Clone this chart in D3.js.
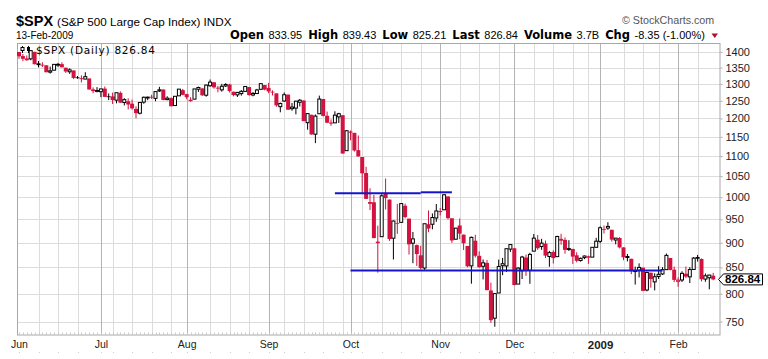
<!DOCTYPE html>
<html>
<head>
<meta charset="utf-8">
<script src="https://cdn.jsdelivr.net/npm/d3@7"></script>
<style>
  body { margin: 0; background: #fff; }
  svg { display: block; }
  text { font-family: "Liberation Sans", Arial, sans-serif; }
</style>
</head>
<body>
<svg id="chart" width="768" height="359"></svg>
<script>
// $SPX daily, 2 Jun 2008 - 13 Feb 2009
const dates = [
  "2008-06-02","2008-06-03","2008-06-04","2008-06-05","2008-06-06","2008-06-09","2008-06-10","2008-06-11","2008-06-12","2008-06-13","2008-06-16","2008-06-17","2008-06-18","2008-06-19","2008-06-20","2008-06-23","2008-06-24","2008-06-25","2008-06-26","2008-06-27","2008-06-30",
  "2008-07-01","2008-07-02","2008-07-03","2008-07-07","2008-07-08","2008-07-09","2008-07-10","2008-07-11","2008-07-14","2008-07-15","2008-07-16","2008-07-17","2008-07-18","2008-07-21","2008-07-22","2008-07-23","2008-07-24","2008-07-25","2008-07-28","2008-07-29","2008-07-30","2008-07-31",
  "2008-08-01","2008-08-04","2008-08-05","2008-08-06","2008-08-07","2008-08-08","2008-08-11","2008-08-12","2008-08-13","2008-08-14","2008-08-15","2008-08-18","2008-08-19","2008-08-20","2008-08-21","2008-08-22","2008-08-25","2008-08-26","2008-08-27","2008-08-28","2008-08-29",
  "2008-09-02","2008-09-03","2008-09-04","2008-09-05","2008-09-08","2008-09-09","2008-09-10","2008-09-11","2008-09-12","2008-09-15","2008-09-16","2008-09-17","2008-09-18","2008-09-19","2008-09-22","2008-09-23","2008-09-24","2008-09-25","2008-09-26","2008-09-29","2008-09-30",
  "2008-10-01","2008-10-02","2008-10-03","2008-10-06","2008-10-07","2008-10-08","2008-10-09","2008-10-10","2008-10-13","2008-10-14","2008-10-15","2008-10-16","2008-10-17","2008-10-20","2008-10-21","2008-10-22","2008-10-23","2008-10-24","2008-10-27","2008-10-28","2008-10-29","2008-10-30","2008-10-31",
  "2008-11-03","2008-11-04","2008-11-05","2008-11-06","2008-11-07","2008-11-10","2008-11-11","2008-11-12","2008-11-13","2008-11-14","2008-11-17","2008-11-18","2008-11-19","2008-11-20","2008-11-21","2008-11-24","2008-11-25","2008-11-26","2008-11-28",
  "2008-12-01","2008-12-02","2008-12-03","2008-12-04","2008-12-05","2008-12-08","2008-12-09","2008-12-10","2008-12-11","2008-12-12","2008-12-15","2008-12-16","2008-12-17","2008-12-18","2008-12-19","2008-12-22","2008-12-23","2008-12-24","2008-12-26","2008-12-29","2008-12-30","2008-12-31",
  "2009-01-02","2009-01-05","2009-01-06","2009-01-07","2009-01-08","2009-01-09","2009-01-12","2009-01-13","2009-01-14","2009-01-15","2009-01-16","2009-01-20","2009-01-21","2009-01-22","2009-01-23","2009-01-26","2009-01-27","2009-01-28","2009-01-29","2009-01-30",
  "2009-02-02","2009-02-03","2009-02-04","2009-02-05","2009-02-06","2009-02-09","2009-02-10","2009-02-11","2009-02-12","2009-02-13"
];

const open = [
  1399.62,1386.42,1376.26,1377.48,1400.06,1360.83,1358.98,1357.09,1335.78,1341.81,1358.85,1360.71,1349.59,1336.89,1341.02,1319.77,1317.23,1314.54,1316.29,1283.60,1278.06,
  1276.69,1285.82,1262.96,1262.90,1251.84,1273.38,1245.25,1248.66,1241.61,1226.83,1214.65,1246.31,1258.22,1261.82,1257.08,1278.87,1283.22,1253.51,1257.76,1236.38,1264.52,1281.37,
  1269.42,1253.27,1254.87,1283.99,1286.51,1266.29,1294.42,1304.79,1288.64,1282.11,1293.85,1298.14,1276.65,1267.34,1271.07,1277.59,1290.47,1267.03,1271.29,1283.79,1296.49,
  1287.83,1276.61,1271.80,1233.21,1249.50,1267.98,1227.50,1229.04,1245.88,1250.92,1188.31,1210.34,1157.08,1213.11,1255.37,1207.61,1188.79,1187.87,1204.47,1209.07,1113.78,
  1164.17,1160.64,1115.16,1097.56,1057.60,988.91,988.42,902.31,912.75,1009.97,994.60,909.53,942.29,943.51,980.40,951.67,899.08,895.22,874.28,848.92,939.51,939.38,953.11,
  968.67,971.31,1001.84,952.40,907.44,936.75,917.15,893.39,853.13,904.36,873.23,852.34,859.03,805.87,755.84,801.20,853.40,852.90,886.89,
  888.61,817.94,843.60,869.75,844.43,882.71,906.48,892.17,898.35,871.79,881.07,871.53,908.16,905.98,886.96,887.20,874.31,863.87,869.51,872.37,870.58,890.59,
  902.99,929.17,931.17,927.45,905.73,909.91,890.40,869.79,867.28,841.99,844.45,849.64,806.77,839.74,822.16,832.50,837.30,845.73,868.89,845.69,
  823.09,825.69,837.77,831.75,846.09,868.24,866.87,827.41,829.91,833.95
];

const high = [
  1399.62,1393.12,1388.18,1404.05,1400.06,1370.63,1366.84,1357.09,1353.03,1360.03,1364.70,1366.59,1349.59,1347.66,1341.02,1323.78,1326.02,1335.63,1316.29,1289.45,1290.31,
  1285.31,1292.17,1271.48,1273.95,1274.17,1277.36,1257.65,1257.27,1253.50,1234.35,1245.52,1262.31,1262.23,1267.74,1277.42,1291.17,1283.22,1263.23,1260.09,1263.20,1284.33,1284.93,
  1270.52,1260.49,1284.88,1291.67,1286.51,1297.85,1313.15,1304.79,1294.03,1300.11,1302.05,1300.22,1276.65,1276.01,1281.40,1293.09,1290.47,1275.65,1285.05,1300.68,1296.49,
  1303.04,1280.60,1271.80,1244.94,1274.42,1268.66,1243.90,1249.98,1255.09,1250.92,1214.84,1210.34,1211.14,1265.12,1255.37,1219.15,1197.41,1220.03,1215.77,1209.07,1168.03,
  1167.03,1160.64,1153.82,1097.56,1072.91,1021.06,1005.25,936.36,1006.93,1044.31,994.60,947.71,984.64,985.40,985.44,951.67,922.83,896.30,893.78,940.51,969.97,963.23,984.38,
  975.57,1007.51,1001.84,952.40,931.46,951.95,917.15,893.39,913.01,916.88,882.29,865.90,864.57,820.52,801.20,865.60,868.94,887.68,896.25,
  888.61,850.54,873.12,875.60,879.42,918.57,916.26,908.27,904.63,883.24,884.63,914.66,918.85,911.02,905.47,887.37,880.44,869.79,873.74,873.70,891.12,910.32,
  934.73,936.63,943.85,927.45,910.00,911.93,890.40,877.02,867.28,851.59,858.13,849.64,841.72,839.74,838.61,852.53,850.45,877.86,868.89,851.66,
  830.78,842.60,851.85,850.55,870.75,875.01,868.05,838.22,835.48,839.43
];

const low = [
  1377.79,1370.12,1371.74,1373.07,1359.90,1350.62,1351.56,1335.47,1331.29,1341.71,1352.07,1350.54,1333.40,1330.50,1314.46,1315.31,1304.42,1314.54,1283.15,1272.00,1274.86,
  1260.68,1261.51,1252.01,1240.68,1242.84,1244.57,1236.76,1225.35,1225.01,1200.44,1211.39,1241.49,1251.81,1255.70,1248.83,1276.06,1251.48,1251.75,1234.37,1236.38,1264.52,1265.97,
  1254.54,1247.45,1254.67,1276.00,1264.29,1262.11,1291.41,1285.64,1274.86,1276.84,1290.74,1274.51,1263.11,1261.16,1265.22,1277.59,1264.87,1263.21,1270.03,1283.79,1280.89,
  1272.20,1265.59,1232.83,1217.23,1247.12,1224.51,1221.60,1211.54,1233.81,1192.70,1169.28,1155.88,1133.50,1213.11,1205.61,1187.06,1179.79,1187.87,1187.54,1106.42,1113.78,
  1140.77,1111.43,1098.14,1007.97,996.23,970.97,909.19,839.80,912.75,972.07,903.99,865.83,918.74,943.51,952.47,875.81,858.44,852.85,845.83,845.27,922.26,928.50,944.59,
  958.82,971.31,949.86,899.73,906.90,907.47,884.90,850.48,818.69,869.88,848.98,826.84,806.18,747.78,741.02,801.20,834.99,841.37,881.21,
  815.69,817.94,827.60,833.60,818.41,882.71,885.38,885.45,868.73,851.35,857.72,871.53,895.94,877.44,883.02,857.09,860.10,861.44,866.52,857.07,870.58,889.67,
  899.35,919.53,927.28,902.37,896.81,888.31,864.32,862.02,836.93,817.04,830.66,804.47,804.30,811.29,806.07,827.69,835.40,845.73,844.15,821.67,
  812.87,821.98,829.18,819.91,845.42,861.65,822.99,822.30,808.06,825.21
];

const close = [
  1385.67,1377.65,1377.20,1404.05,1360.68,1361.76,1358.44,1335.49,1339.87,1360.03,1360.14,1350.93,1337.81,1342.83,1317.93,1318.00,1314.29,1321.97,1283.15,1278.38,1280.00,
  1284.91,1261.52,1262.90,1252.31,1273.70,1244.69,1253.39,1239.49,1228.30,1214.91,1245.36,1260.32,1260.68,1260.00,1277.00,1282.19,1252.54,1257.76,1234.37,1263.20,1284.26,1267.38,
  1260.31,1249.01,1284.88,1289.19,1266.07,1296.32,1305.32,1289.59,1285.83,1292.93,1298.20,1278.60,1266.69,1274.54,1277.72,1292.20,1266.84,1271.51,1281.66,1300.68,1282.83,
  1277.58,1274.98,1236.83,1242.31,1267.79,1224.51,1232.04,1249.05,1251.70,1192.70,1213.60,1156.39,1206.51,1255.08,1207.09,1188.22,1185.87,1209.18,1213.27,1106.42,1166.36,
  1161.06,1114.28,1099.23,1056.89,996.23,984.94,909.92,899.22,1003.35,998.01,907.84,946.43,940.55,985.40,955.05,896.78,908.11,876.77,848.92,940.51,930.09,954.09,968.75,
  966.30,1005.75,952.77,904.88,930.99,919.21,898.95,852.30,911.29,873.29,850.75,859.12,806.58,752.44,800.03,851.81,857.39,887.68,896.24,
  816.21,848.81,870.74,845.22,876.07,909.70,888.67,899.24,873.59,879.73,868.57,913.18,904.42,885.28,887.88,871.63,863.16,868.15,872.80,869.42,890.64,903.25,
  931.80,927.45,934.70,906.65,909.73,890.35,870.26,871.79,842.62,843.74,850.12,805.22,840.24,827.50,831.95,836.57,845.71,874.09,845.14,825.88,
  825.44,838.51,832.23,845.85,868.60,869.89,827.16,833.74,835.19,826.84
];

const priorClose = 1400.38;   // 30 May 2008

const yTicks = [750, 800, 850, 900, 950, 1000, 1050, 1100, 1150, 1200, 1250, 1300, 1350, 1400];
const monthLabels = ["Jun", "Jul", "Aug", "Sep", "Oct", "Nov", "Dec", "2009", "Feb"];

// hand-drawn horizontal lines: [from date, to date, price]
const lineFrom  = ["2008-09-25", "2008-10-27", "2008-10-01"];
const lineTo    = ["2008-10-27", "2008-11-06", "2009-01-27"];
const linePrice = [1009, 1011.5, 844];

const headerLabels = ["Open", "High", "Low", "Last", "Volume", "Chg"];
const headerValues = ["833.95", "839.43", "825.21", "826.84", "3.7B", "-8.35 (-1.00%)"];

const RED = "#d3123f", INK = "#000";

const svg = d3.select("#chart");
const plotL = 17, plotR = 720.5, plotT = 43, plotB = 334.5;

const x = d3.scalePoint().domain(dates).range([19, 713.2]);
const y = d3.scaleLog().domain([727, 1429]).range([335, 43]);

const parse = d3.timeParse("%Y-%m-%d");
const days = dates.map(parse);
const monthStart = dates.filter((d, i) => i === 0 || days[i].getMonth() !== days[i - 1].getMonth());
const monthIdx = monthStart.map(d => dates.indexOf(d));
const weekStart = dates.filter((d, i) => {
  if (i === 0 || days[i].getDay() > days[i - 1].getDay()) return false;
  return !monthIdx.some(m => Math.abs(m - i) <= 1);
});

// grid
const grid = svg.append("g");
grid.selectAll(".hg").data(yTicks).join("line")
  .attr("x1", plotL).attr("x2", plotR)
  .attr("y1", d => Math.round(y(d)) + 0.5).attr("y2", d => Math.round(y(d)) + 0.5)
  .attr("stroke", "#dcdcdc");
grid.selectAll(".wg").data(weekStart).join("line")
  .attr("x1", d => Math.round(x(d)) + 0.5).attr("x2", d => Math.round(x(d)) + 0.5)
  .attr("y1", plotT).attr("y2", plotB)
  .attr("stroke", "#dcdcdc");
grid.selectAll(".mg").data(monthStart.slice(1)).join("line")
  .attr("x1", d => Math.round(x(d)) + 0.5).attr("x2", d => Math.round(x(d)) + 0.5)
  .attr("y1", plotT).attr("y2", plotB)
  .attr("stroke", "#b4b4b4");

// frame
svg.append("rect")
  .attr("x", plotL + 0.5).attr("y", plotT + 0.5)
  .attr("width", plotR - plotL - 1).attr("height", plotB - plotT)
  .attr("fill", "none").attr("stroke", "#a8a8a8");

// daily ticks on bottom edge
svg.append("g").selectAll("line").data(dates).join("line")
  .attr("x1", d => Math.round(x(d)) + 0.5).attr("x2", d => Math.round(x(d)) + 0.5)
  .attr("y1", plotB - 2).attr("y2", plotB)
  .attr("stroke", "#c8c8c8");
// weekly dots under labels
svg.append("g").selectAll("rect").data(weekStart.concat(monthStart)).join("rect")
  .attr("x", d => Math.round(x(d))).attr("y", 352)
  .attr("width", 1).attr("height", 1).attr("fill", "#cfcfcf");

// candles
const bars = dates.map((d, i) => ({
  d, o: open[i], h: high[i], l: low[i], c: close[i],
  pc: i ? close[i - 1] : priorClose
}));
const cg = svg.append("g");
const candle = cg.selectAll("g").data(bars).join("g");
candle.append("line")
  .attr("x1", b => x(b.d)).attr("x2", b => x(b.d))
  .attr("y1", b => y(b.h)).attr("y2", b => y(b.l))
  .attr("stroke", b => b.c < b.pc ? RED : INK).attr("stroke-width", 1);
candle.append("rect")
  .attr("x", b => b.c >= b.o ? x(b.d) - 1.5 : x(b.d) - 2)
  .attr("width", b => b.c >= b.o ? 3 : 4)
  .attr("y", b => y(Math.max(b.o, b.c)))
  .attr("height", b => Math.max(y(Math.min(b.o, b.c)) - y(Math.max(b.o, b.c)), 0.8))
  .attr("fill", b => b.c >= b.o ? "#fff" : (b.c < b.pc ? RED : INK))
  .attr("stroke", b => b.c >= b.o ? (b.c < b.pc ? RED : INK) : "none")
  .attr("stroke-width", 1);

// blue horizontal lines
svg.append("g").selectAll("line").data(linePrice).join("line")
  .attr("x1", (p, i) => x(lineFrom[i])).attr("x2", (p, i) => x(lineTo[i]))
  .attr("y1", p => y(p)).attr("y2", p => y(p))
  .attr("stroke", "#1414cc").attr("stroke-width", 2);

// right price axis
const yAxis = svg.append("g")
  .attr("transform", `translate(${plotR},0)`)
  .call(d3.axisRight(y).tickValues(yTicks).tickFormat(d3.format("d")).tickSize(2).tickPadding(3));
yAxis.select(".domain").remove();
yAxis.selectAll(".tick line").attr("stroke", "#a8a8a8");
yAxis.selectAll("text").attr("font-size", 11).attr("fill", "#222")
  .style("font-family", '"Liberation Sans", Arial, sans-serif');

// month axis
const xAxis = svg.append("g")
  .attr("transform", `translate(0,${plotB})`)
  .call(d3.axisBottom(x).tickValues(monthStart).tickSize(0).tickPadding(6)
    .tickFormat((d, i) => monthLabels[i]));
xAxis.select(".domain").remove();
xAxis.selectAll("text").attr("fill", "#222")
  .style("font-family", '"Liberation Sans", Arial, sans-serif')
  .attr("font-weight", (d, i) => monthLabels[i] === "2009" ? "bold" : "normal")
  .attr("font-size", (d, i) => monthLabels[i] === "2009" ? 11.5 : 10.5);

// last price tag
const lastY = y(close[close.length - 1]);
svg.append("path")
  .attr("d", `M718.5,${lastY} L723.5,${lastY - 5.5} H762.5 V${lastY + 5.5} H723.5 Z`)
  .attr("fill", "#fff").attr("stroke", "#000");
svg.append("text")
  .attr("x", 725).attr("y", lastY + 4)
  .attr("font-size", 11.5).attr("font-weight", "bold")
  .text(d3.format(".2f")(close[close.length - 1]));

// header
svg.append("text").attr("x", 16).attr("y", 25.5)
  .attr("font-size", 14.5).attr("font-weight", "bold").text("$SPX");
svg.append("text").attr("x", 57).attr("y", 25.5)
  .attr("font-size", 11.7).text("(S&P 500 Large Cap Index) INDX");
svg.append("text").attr("x", 16).attr("y", 38.5)
  .attr("font-size", 10).text("13-Feb-2009");
svg.append("text").attr("x", 622).attr("y", 24)
  .attr("font-size", 10.7).attr("fill", "#555").text("\u00A9 StockCharts.com");

const hl = svg.append("text").attr("x", 230).attr("y", 38.5);
headerLabels.forEach((lab, i) => {
  hl.append("tspan").attr("dx", i ? 6 : 0)
    .style("font-family", '"DejaVu Sans", Verdana, sans-serif')
    .attr("font-weight", "bold").attr("font-size", 11.5).text(lab);
  hl.append("tspan").attr("dx", 4.5).attr("font-size", 11).text(headerValues[i]);
});
svg.append("path").attr("d", "M711.5,33.5 L718,33.5 L714.75,38 Z").attr("fill", "#b0102a");

// legend inside plot
const lg = svg.append("g");
lg.append("line").attr("x1", 22.5).attr("x2", 22.5).attr("y1", 46).attr("y2", 53).attr("stroke", "#000");
lg.append("rect").attr("x", 21).attr("y", 47.5).attr("width", 3).attr("height", 3).attr("fill", "#fff").attr("stroke", "#000");
lg.append("line").attr("x1", 28.5).attr("x2", 28.5).attr("y1", 46).attr("y2", 53).attr("stroke", "#000");
lg.append("rect").attr("x", 27).attr("y", 47).attr("width", 3).attr("height", 4).attr("fill", "#000");
lg.append("text").attr("x", 36).attr("y", 53.5)
  .style("font-family", '"DejaVu Sans", Verdana, sans-serif')
  .attr("font-size", 10.5).attr("textLength", 119).attr("lengthAdjust", "spacing")
  .text("$SPX (Daily) " + d3.format(".2f")(close[close.length - 1]));
</script>
</body>
</html>
